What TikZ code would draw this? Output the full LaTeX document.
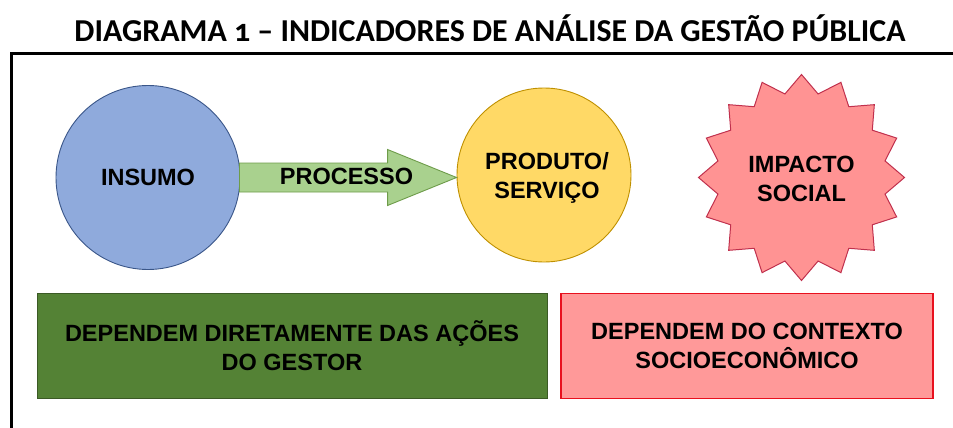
\documentclass[tikz,border=0pt]{standalone}
\usepackage{fontspec}
\setmainfont{Liberation Sans}
\newfontfamily\titlefont[Numbers=OldStyle]{Carlito}
\usetikzlibrary{shapes.geometric,calc}
\definecolor{insfill}{HTML}{8FAADC}
\definecolor{insdraw}{HTML}{3A5689}
\definecolor{procfill}{HTML}{A9D18E}
\definecolor{procdraw}{HTML}{6E9C4A}
\definecolor{prodfill}{HTML}{FFD966}
\definecolor{proddraw}{HTML}{BF9000}
\definecolor{starfill}{HTML}{FF9393}
\definecolor{stardraw}{HTML}{C0304D}
\definecolor{gbfill}{HTML}{548235}
\definecolor{gbdraw}{HTML}{3B5A25}
\definecolor{rbfill}{HTML}{FF9999}
\definecolor{rbdraw}{HTML}{E8101E}
\tikzset{
  lbl/.style={font=\bfseries\fontsize{23.5}{29}\selectfont, align=center, text=black},
  circ/.style={circle, inner sep=0pt, line width=0.9pt, lbl},
  boxstyle/.style={rectangle, inner sep=0pt, line width=1pt, lbl},
}
\begin{document}
\begin{tikzpicture}[x=1pt,y=-1pt]
\useasboundingbox (0,0) rectangle (953,428);
\clip (0,0) rectangle (953,428);
% frame
\draw[line width=3pt, black] (11.5,460) -- (11.5,54) -- (990,54);
% title
\node[font=\titlefont\bfseries\fontsize{31.9}{38}\selectfont] (title) at (490,28) {DIAGRAMA 1 – INDICADORES DE ANÁLISE DA GESTÃO PÚBLICA};
% circles
\node[circ, fill=insfill, draw=insdraw, minimum size=184pt] (insumo) at (148,177.5) {INSUMO};
\node[circ, fill=prodfill, draw=proddraw, minimum size=174pt] (produto) at (544,175) {};
\node[lbl] (produtotxt) at ($(produto.center)+(3,3)$) {PRODUTO/\\SERVIÇO};
% arrow
\filldraw[fill=procfill, draw=procdraw, line width=0.9pt]
  ($(insumo.east)+(-1,-14.5)$) -- ($(produto.west |- insumo.east)+(-69,-14.5)$)
  -- ($(produto.west |- insumo.east)+(-69,-28)$) -- (produto.west |- insumo.east)
  -- ($(produto.west |- insumo.east)+(-69,28)$) -- ($(produto.west |- insumo.east)+(-69,14.5)$)
  -- ($(insumo.east)+(-1,14.5)$) -- cycle;
\node[lbl] (processo) at ($(insumo.east)!0.5!(produto.west |- insumo.east)+(-2,-1)$) {PROCESSO};
% star
\node[star, star points=16, star point ratio=1.21, minimum size=206pt, inner sep=0pt,
      fill=starfill, draw=stardraw, line width=1pt] (impacto) at (801.5,177.5) {};
\node[lbl] (impactotxt) at ($(impacto.center)+(0,1)$) {IMPACTO\\SOCIAL};
% bottom boxes
\node[boxstyle, fill=gbfill, draw=gbdraw, minimum width=510pt, minimum height=105pt] (gestor) at (292,346) {DEPENDEM DIRETAMENTE DAS AÇÕES\\DO GESTOR};
\node[boxstyle, fill=rbfill, draw=rbdraw, line width=1.3pt, minimum width=372pt, minimum height=105pt] (contexto) at (747,346) {DEPENDEM DO CONTEXTO\\SOCIOECONÔMICO};
\end{tikzpicture}
\end{document}
